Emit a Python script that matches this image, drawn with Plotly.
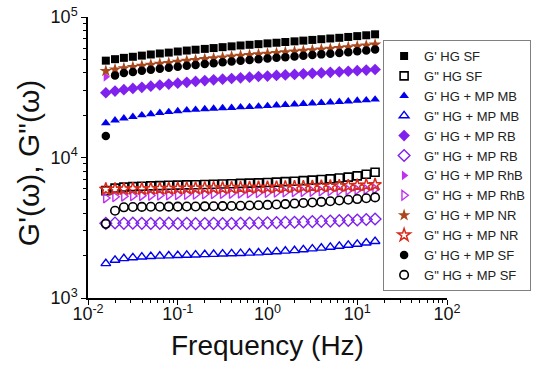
import plotly.graph_objects as go

freq = [0.0158, 0.0200, 0.0251, 0.0316, 0.0398, 0.0501, 0.0631, 0.0794, 0.100, 0.126,
        0.158, 0.200, 0.251, 0.316, 0.398, 0.501, 0.631, 0.794, 1.00, 1.26,
        1.58, 2.00, 2.51, 3.16, 3.98, 5.01, 6.31, 7.94, 10.0, 12.6, 15.8]

gp_hg_sf = [48900, 50100, 51200, 52100, 53100, 54100, 55000, 55800, 56800, 57700,
            58500, 59300, 60100, 61000, 61800, 62700, 63400, 64100, 64900, 65600,
            66400, 67100, 67900, 68700, 69500, 70300, 71100, 72100, 73100, 74100, 75300]
gpp_hg_sf = [5810, 6050, 6150, 6200, 6250, 6280, 6310, 6340, 6360, 6380,
             6400, 6430, 6450, 6480, 6510, 6540, 6570, 6600, 6640, 6680,
             6730, 6780, 6840, 6900, 6970, 7050, 7140, 7250, 7400, 7600, 7850]
gp_mb = [17600, 18400, 19000, 19500, 20000, 20400, 20800, 21100, 21400, 21700,
         21900, 22100, 22300, 22500, 22600, 22800, 22900, 23100, 23300, 23500,
         23700, 23900, 24100, 24300, 24500, 24700, 24900, 25100, 25400, 25600, 25900]
gpp_mb = [1760, 1860, 1910, 1940, 1960, 1980, 1990, 2000, 2010, 2020,
          2030, 2040, 2050, 2060, 2070, 2080, 2090, 2100, 2120, 2140,
          2160, 2180, 2210, 2240, 2270, 2300, 2340, 2380, 2420, 2470, 2530]
gp_rb = [28900, 29700, 30400, 31000, 31600, 32200, 32800, 33300, 33800, 34300,
         34800, 35300, 35700, 36100, 36500, 36900, 37300, 37700, 38000, 38400,
         38700, 39000, 39400, 39700, 40000, 40400, 40700, 41100, 41500, 41900, 42300]
gpp_rb = [3400, 3420, 3400, 3410, 3400, 3390, 3400, 3410, 3390, 3400,
          3380, 3390, 3400, 3380, 3390, 3400, 3410, 3420, 3430, 3440,
          3450, 3460, 3480, 3500, 3510, 3530, 3550, 3570, 3590, 3620, 3650]
gp_rhb = [37500, 39800, 40900, 41800, 42600, 43400, 44100, 44800, 45600, 46300,
          46900, 47600, 48300, 48900, 49600, 50300, 50900, 51500, 52100, 52600,
          53300, 53900, 54500, 55100, 55800, 56400, 57100, 57900, 58700, 59500, 60400]
gpp_rhb = [5150, 5250, 5300, 5330, 5350, 5370, 5390, 5410, 5430, 5450,
           5470, 5490, 5510, 5530, 5550, 5570, 5590, 5610, 5630, 5650,
           5670, 5690, 5710, 5730, 5760, 5790, 5820, 5850, 5880, 5920, 5970]
gp_nr = [41300, 42300, 43200, 44000, 44900, 45700, 46500, 47100, 48000, 48700,
         49400, 50100, 50800, 51500, 52200, 53000, 53600, 54200, 54800, 55400,
         56100, 56700, 57400, 58000, 58700, 59400, 60100, 60900, 61800, 62600, 63600]
gpp_nr = [5950, 5950, 5960, 5980, 5970, 5990, 6010, 6000, 6020, 6040,
          6040, 6050, 6070, 6060, 6080, 6100, 6100, 6120, 6120, 6140,
          6150, 6170, 6190, 6210, 6230, 6250, 6270, 6290, 6320, 6350, 6400]
gp_mp_sf = [14200, 38300, 39900, 40600, 41400, 42200, 42900, 43500, 44300, 45000,
            45600, 46300, 46900, 47600, 48200, 48900, 49500, 50000, 50600, 51200,
            51800, 52300, 53000, 53600, 54200, 54800, 55500, 56200, 57000, 57800, 58700]
gpp_mp_sf = [3370, 4180, 4420, 4440, 4450, 4460, 4460, 4470, 4470, 4480,
             4480, 4490, 4500, 4510, 4520, 4530, 4550, 4570, 4600, 4630,
             4660, 4700, 4740, 4780, 4830, 4880, 4940, 5000, 5060, 5130, 5200]

x_tickvals = [0.01, 0.1, 1, 10, 100]
x_ticktext = ["10<sup>-2</sup>", "10<sup>-1</sup>", "10<sup>0</sup>", "10<sup>1</sup>", "10<sup>2</sup>"]
y_tickvals = [1000, 10000, 100000]
y_ticktext = ["10<sup>3</sup>", "10<sup>4</sup>", "10<sup>5</sup>"]

FONT = "Liberation Sans, Arial, sans-serif"

series = [
    ("G' HG SF", gp_hg_sf, "square", "#000000", 8, None),
    ('G" HG SF', gpp_hg_sf, "square-open", "#000000", 8, 1.6),
    ("G' HG + MP MB", gp_mb, "triangle-up", "#0000ee", 8.5, None),
    ('G" HG + MP MB', gpp_mb, "triangle-up-open", "#0000ee", 8.5, 1.4),
    ("G' HG + MP RB", gp_rb, "diamond", "#7f22ee", 9, None),
    ('G" HG + MP RB', gpp_rb, "diamond-open", "#7f22ee", 9, 1.4),
    ("G' HG + MP RhB", gp_rhb, "triangle-right", "#c030f0", 8.5, None),
    ('G" HG + MP RhB', gpp_rhb, "triangle-right-open", "#c030f0", 8.5, 1.4),
    ("G' HG + MP NR", gp_nr, "star", "#a8481c", 9.5, None),
    ('G" HG + MP NR', gpp_nr, "star-open", "#d82a1a", 9.5, 1.5),
    ("G' HG + MP SF", gp_mp_sf, "circle", "#000000", 8.5, None),
    ('G" HG + MP SF', gpp_mp_sf, "circle-open", "#000000", 8.5, 1.6),
]

fig = go.Figure()
for name, vals, sym, col, size, lw in series:
    marker = dict(symbol=sym, color=col, size=size)
    if lw is not None:
        marker["line"] = dict(color=col, width=lw)
    else:
        marker["line"] = dict(width=0)
    fig.add_trace(go.Scatter(x=freq, y=vals, mode="markers", name=name, marker=marker))

axis_common = dict(
    showline=True, linecolor="black", linewidth=1.5, mirror=False,
    showgrid=False, zeroline=False, automargin=False,
    ticks="outside", ticklen=5, tickwidth=1.2, tickcolor="black",
    tickfont=dict(family=FONT, size=18, color="#111"),
    minor=dict(ticks="outside", ticklen=3, tickwidth=1, tickcolor="black", dtick="D1", showgrid=False),
)

fig.update_xaxes(type="log", range=[-2, 2], tickvals=x_tickvals, ticktext=x_ticktext,
                 ticklabelstandoff=-6, **axis_common)
fig.update_yaxes(type="log", range=[3, 5], tickvals=y_tickvals, ticktext=y_ticktext, **axis_common)

fig.update_layout(
    width=550, height=366,
    margin=dict(l=88, r=103, t=17, b=68, autoexpand=False),
    paper_bgcolor="white", plot_bgcolor="white",
    font=dict(family=FONT, color="#111"),
    legend=dict(
        x=0.822, y=0.918, xanchor="left", yanchor="top",
        bgcolor="white", bordercolor="#808080", borderwidth=1,
        font=dict(family=FONT, size=13, color="#222"),
        tracegroupgap=0,
    ),
    annotations=[
        dict(text="Frequency (Hz)", xref="paper", yref="paper", x=0.5, y=-0.168,
             xanchor="center", yanchor="middle", showarrow=False,
             font=dict(family=FONT, size=28, color="#111")),
        dict(text="G'(ω), G\"(ω)", xref="paper", yref="paper", x=-0.167, y=0.48,
             xanchor="center", yanchor="middle", showarrow=False, textangle=-90,
             font=dict(family=FONT, size=30, color="#111")),
    ],
)

fig.write_html(
    "out.html",
    config={"displayModeBar": False},
    post_script="document.body.style.margin='0';document.body.style.padding='0';"
                "document.documentElement.style.overflow='hidden';",
)
